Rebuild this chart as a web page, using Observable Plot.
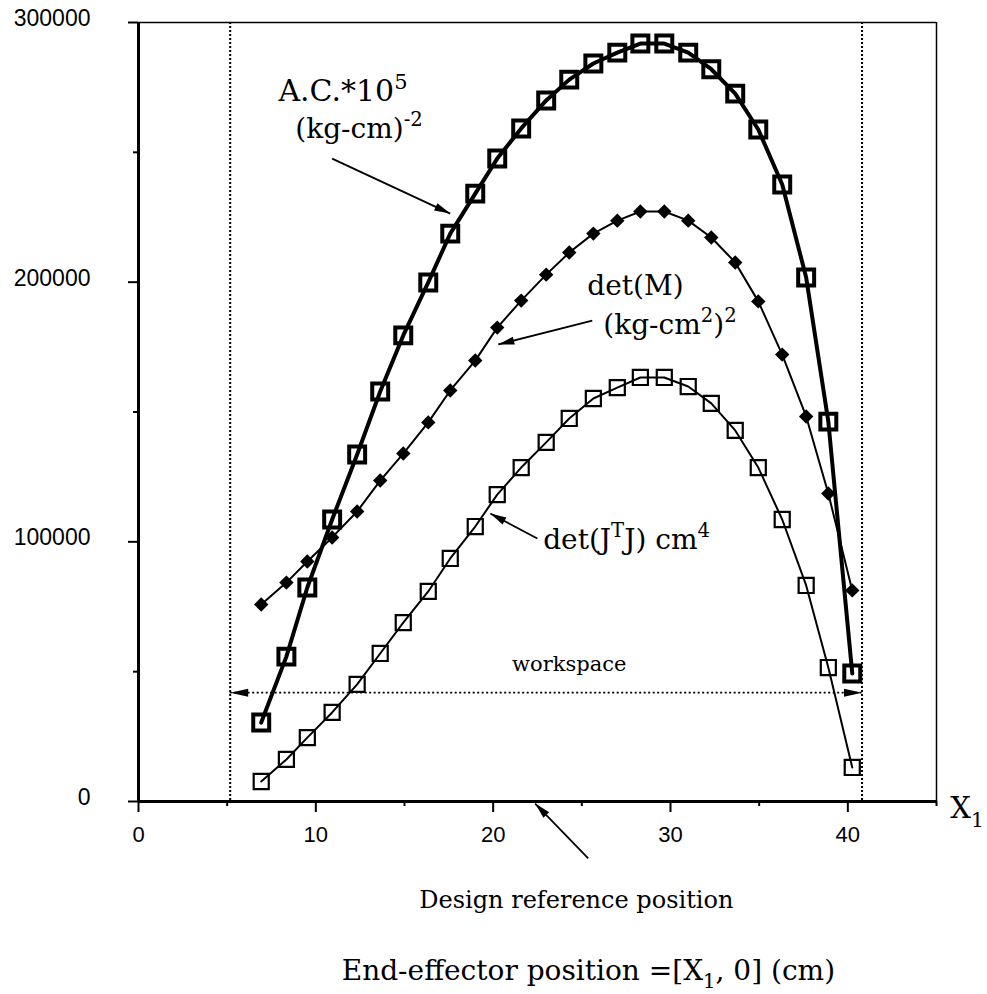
<!DOCTYPE html>
<html><head><meta charset="utf-8">
<script src="https://cdn.jsdelivr.net/npm/d3@7"></script>
<script src="https://cdn.jsdelivr.net/npm/@observablehq/plot@0.6"></script>
<style>body{margin:0;background:#fff}</style>
</head><body><div id="chart"></div>
<script>
// End-effector position X1 (cm)
const xPositions = [6.92, 8.34, 9.52, 10.92, 12.33, 13.63, 14.93, 16.34, 17.58, 18.99, 20.23, 21.58, 22.99, 24.29, 25.65, 27.0, 28.3, 29.65, 31.0, 32.3, 33.65, 34.95, 36.3, 37.65, 38.9, 40.25];
// A.C.*10^5 (kg-cm)^-2
const acValues = [30400, 55800, 82400, 108600, 133600, 157900, 179500, 199900, 218700, 234100, 247600, 259200, 270000, 278000, 284200, 288400, 291900, 291900, 288400, 282000, 272600, 258800, 237600, 201800, 146300, 49300];
// det(M) (kg-cm^2)^2
const detMValues = [75900, 84300, 92400, 101700, 111700, 123600, 134000, 146000, 158300, 169800, 182500, 192900, 202900, 211400, 218700, 223700, 227200, 227200, 223700, 217200, 207600, 192600, 172100, 148300, 118600, 81300];
// det(J^T J) cm^4
const detJValues = [7700, 16200, 24600, 34300, 45100, 57000, 68900, 80900, 93600, 105900, 118200, 128600, 138300, 147500, 155200, 159400, 163300, 163300, 159800, 153300, 142900, 128600, 108600, 83200, 51600, 13100];

const yMajorTicks = [0, 100000, 200000, 300000];
const yMinorTicks = [50000, 150000, 250000];
const xMajorTicks = [0, 10, 20, 30, 40];
const xMinorTicks = [5, 15, 25, 35, 45];

const workspaceBounds = [5.17, 40.8];
const workspaceLevel = 41900;

const startLabels = [
  {x: 7.89, y: 269600, text: "A.C.*10^{5}", size: 30},
  {x: 8.84, y: 255700, text: "(kg-cm)^{-2}", size: 28},
  {x: 25.31, y: 194900, text: "det(M)", size: 28},
  {x: 26.21, y: 180200, text: "(kg-cm^{2})^{2}", size: 28},
  {x: 22.82, y: 97400, text: "det(J^{T}J) cm^{4}", size: 28},
  {x: 45.78, y: -6500, text: "X_{1}", size: 29}
];
const middleLabels = [
  {x: 24.29, y: 50400, text: "workspace", size: 21},
  {x: 24.69, y: -41200, text: "Design reference position", size: 24},
  {x: 25.37, y: -68900, text: "End-effector position =[X_{1}, 0] (cm)", size: 28}
];
const pointerArrows = [
  {x1: 10.92, y1: 247600, x2: 17.58, y2: 226400},
  {x1: 25.59, y1: 185200, x2: 20.29, y2: 176000},
  {x1: 22.49, y1: 101300, x2: 19.84, y2: 110900},
  {x1: 25.36, y1: -21950, x2: 22.37, y2: -800}
];

const rows = xPositions.map((x, i) => ({x, ac: acValues[i], dm: detMValues[i], dj: detJValues[i]}));

const layout = {
  width: 987, height: 994,
  marginLeft: 138, marginRight: 51, marginTop: 22, marginBottom: 193,
  x: {domain: [0, 45], label: null},
  y: {domain: [0, 300000], label: null}
};

// probe the scales to orient the filled arrow heads along their shafts
const probe = Plot.plot({...layout, marks: [Plot.ruleX([0])]});
const sx = probe.scale("x"), sy = probe.scale("y");
const heads = pointerArrows.map(a => ({
  x: a.x2, y: a.y2,
  angle: Math.atan2(sy.apply(a.y2) - sy.apply(a.y1), sx.apply(a.x2) - sx.apply(a.x1)) * 180 / Math.PI
}));

const headRight = {draw(c) { c.moveTo(0, 0); c.lineTo(-18, -4); c.lineTo(-18, 4); c.closePath(); }};
const headLeft = {draw(c) { c.moveTo(0, 0); c.lineTo(18, -4); c.lineTo(18, 4); c.closePath(); }};
const pointerHead = {draw(c) { c.moveTo(0, 0); c.lineTo(-16, -4); c.lineTo(-16, 4); c.closePath(); }};

const serif = "DejaVu Serif, serif";
const sans = "Liberation Sans, Arial, sans-serif";
const blank = () => "";

const chart = Plot.plot({
  ...layout,
  style: {background: "white", color: "black", fontFamily: sans, overflow: "visible"},
  marks: [
    // workspace limits
    Plot.ruleX(workspaceBounds, {strokeDasharray: "2,2", strokeWidth: 2}),
    Plot.ruleY([workspaceLevel], {x1: workspaceBounds[0], x2: workspaceBounds[1], strokeDasharray: "2,2.5", strokeWidth: 1.8}),
    Plot.dot([{x: workspaceBounds[0], y: workspaceLevel}], {x: "x", y: "y", symbol: headLeft, fill: "black", stroke: "none"}),
    Plot.dot([{x: workspaceBounds[1], y: workspaceLevel}], {x: "x", y: "y", symbol: headRight, fill: "black", stroke: "none"}),
    // frame
    Plot.ruleY([300000], {strokeWidth: 1.5}),
    Plot.ruleX([45], {strokeWidth: 1.5}),
    Plot.ruleX([0], {strokeWidth: 3}),
    Plot.ruleY([0], {strokeWidth: 3}),
    // axes
    Plot.axisY({ticks: yMajorTicks, tickSize: 10, tickFormat: blank, label: null, strokeWidth: 2}),
    Plot.axisY({ticks: yMinorTicks, tickSize: 5, tickFormat: blank, label: null, strokeWidth: 2}),
    Plot.axisY({ticks: yMajorTicks, tickSize: 0, tickPadding: 48, dy: -4, tickFormat: d3.format("d"), fontSize: 23, label: null}),
    Plot.axisX({ticks: xMajorTicks, tickSize: 11, tickPadding: 14, fontSize: 22, label: null, strokeWidth: 2}),
    Plot.axisX({ticks: xMinorTicks, tickSize: 5, tickFormat: blank, label: null, strokeWidth: 2}),
    // series
    Plot.line(rows, {x: "x", y: "dj", strokeWidth: 2}),
    Plot.dot(rows, {x: "x", y: "dj", symbol: "square", r: 8.5, stroke: "black", strokeWidth: 2.2, fill: "none"}),
    Plot.line(rows, {x: "x", y: "dm", strokeWidth: 2}),
    Plot.dot(rows, {x: "x", y: "dm", symbol: "diamond2", r: 6.5, fill: "black", stroke: "none"}),
    Plot.line(rows, {x: "x", y: "ac", strokeWidth: 4}),
    Plot.dot(rows, {x: "x", y: "ac", symbol: "square", r: 9, stroke: "black", strokeWidth: 4, fill: "none"}),
    // annotation pointers
    Plot.link(pointerArrows, {x1: "x1", y1: "y1", x2: "x2", y2: "y2", strokeWidth: 1.8}),
    Plot.dot(heads, {x: "x", y: "y", rotate: "angle", symbol: pointerHead, fill: "black", stroke: "none"}),
    Plot.text(startLabels, {x: "x", y: "y", text: "text", fontSize: d => d.size, textAnchor: "start", lineAnchor: "bottom", fontFamily: serif, fill: "black"}),
    Plot.text(middleLabels, {x: "x", y: "y", text: "text", fontSize: d => d.size, textAnchor: "middle", lineAnchor: "bottom", fontFamily: serif, fill: "black"})
  ]
});

document.getElementById("chart").append(chart);

// render ^{..} and _{..} as real superscript / subscript tspans
function richify(svg) {
  svg.querySelectorAll("text").forEach(t => {
    const s = t.textContent;
    if (!/[\^_]\{/.test(s)) return;
    const fs = parseFloat(getComputedStyle(t).fontSize) || 20;
    while (t.firstChild) t.removeChild(t.firstChild);
    let shift = 0;
    const add = (str, kind) => {
      const ts = document.createElementNS("http://www.w3.org/2000/svg", "tspan");
      const target = kind === "^" ? -0.42 * fs : kind === "_" ? 0.28 * fs : 0;
      ts.setAttribute("dy", target - shift);
      shift = target;
      if (kind) ts.setAttribute("font-size", 0.7 * fs);
      ts.textContent = str;
      t.appendChild(ts);
    };
    const re = /([\^_])\{([^}]*)\}/g;
    let last = 0, m;
    while ((m = re.exec(s))) {
      if (m.index > last) add(s.slice(last, m.index), null);
      add(m[2], m[1]);
      last = re.lastIndex;
    }
    if (last < s.length) add(s.slice(last), null);
  });
}
richify(chart);
</script>
</body></html>
